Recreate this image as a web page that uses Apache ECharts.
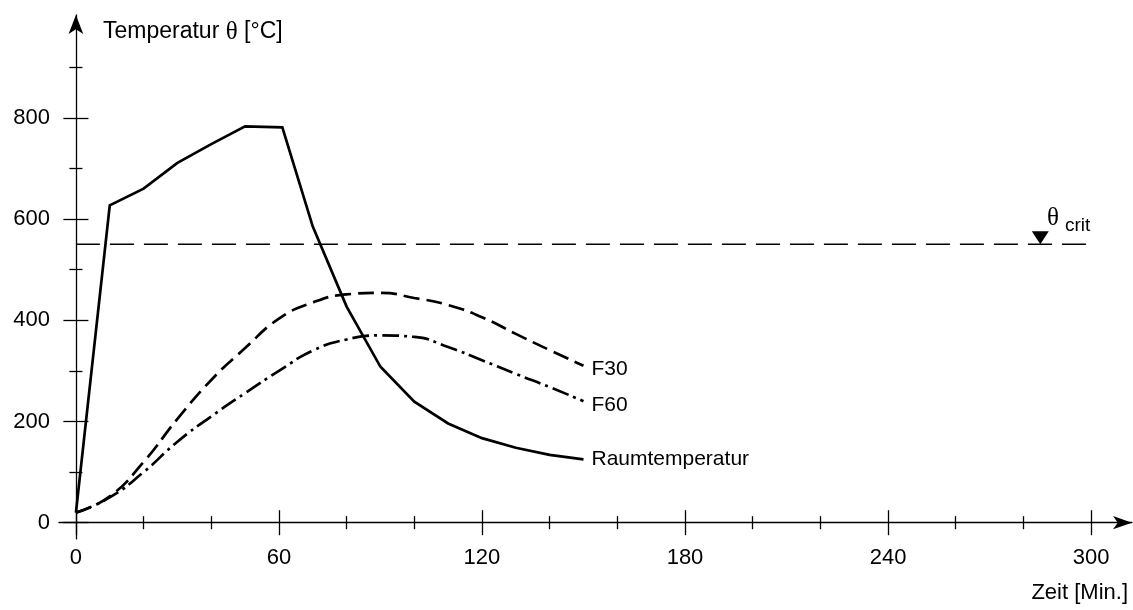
<!DOCTYPE html>
<html>
<head>
<meta charset="utf-8">
<script src="https://cdn.jsdelivr.net/npm/echarts@6/dist/echarts.min.js"></script>
<style>
html,body{margin:0;padding:0;background:#fff;}
#chart{width:1133px;height:610px;}
</style>
</head>
<body>
<div id="chart"></div>
<script>
// ---- data ----
const raumTime = [0, 10, 20, 30, 40, 50, 61, 70, 80, 90, 100, 110, 120, 130, 140, 150];
const raumTemp = [20, 627, 660, 711, 748, 783, 781, 585, 427, 308, 239, 196, 167, 148, 134, 125];
const fTime = [0, 10, 20, 30, 40, 50, 60, 70, 80, 90, 100, 110, 120, 130, 140, 150];
const f30Temp = [20, 52, 120, 205, 282, 345, 403, 435, 451, 454, 444, 430, 406, 373, 341, 310];
const f60Temp = [20, 50, 100, 160, 210, 256, 300, 340, 362, 370, 367, 347, 321, 294, 268, 240];
const critTime = [0, 300];
const critTemp = [550, 550];
const critMarkTime = 285;
const xMajor = [0, 60, 120, 180, 240, 300];
const xMinor = [20, 40, 80, 100, 140, 160, 200, 220, 260, 280];
const yMajor = [0, 200, 400, 600, 800];
const yMinor = [100, 300, 500, 700, 900];
const seriesNames = ['F30', 'F60', 'Raumtemperatur'];

const pairs = (xs, ys) => xs.map((x, i) => [x, ys[i]]);

const FONT = "'Liberation Sans', Arial, sans-serif";
const SERIF = "'Liberation Serif', 'Times New Roman', serif";
const X_MIN = -5, X_MAX = 312.1, Y_MIN = -32, Y_MAX = 1003;

function xAx(ticks, len, inside, main) {
  return {
    type: 'value', position: 'bottom', min: X_MIN, max: X_MAX,
    axisLine: main ? { show: true, onZero: true, onZeroAxisIndex: 0, symbol: ['none', 'arrow'], symbolSize: [10, 19],
      lineStyle: { color: '#000', width: 1.3 } } : { show: false, onZero: true, onZeroAxisIndex: 0 },
    axisTick: { show: true, customValues: ticks, length: len, inside: inside, lineStyle: { color: '#000', width: 1.3 } },
    axisLabel: main ? { show: true, customValues: ticks, margin: 8, fontSize: 22, fontFamily: FONT, color: '#000' } : { show: false },
    splitLine: { show: false }
  };
}
function yAx(ticks, len, inside, main) {
  return {
    type: 'value', position: 'left', min: Y_MIN, max: Y_MAX,
    axisLine: main ? { show: true, onZero: true, onZeroAxisIndex: 0, symbol: ['none', 'arrow'], symbolSize: [11, 19],
      lineStyle: { color: '#000', width: 1.3 } } : { show: false, onZero: true, onZeroAxisIndex: 0 },
    axisTick: { show: true, customValues: ticks, length: len, inside: inside, lineStyle: { color: '#000', width: 1.3 } },
    axisLabel: main ? { show: true, customValues: ticks, margin: 9, fontSize: 22, fontFamily: FONT, color: '#000' } : { show: false },
    splitLine: { show: false }
  };
}

const chart = echarts.init(document.getElementById('chart'), null, { renderer: 'canvas' });
const option = {
  animation: false,
  backgroundColor: '#fff',
  grid: { left: 59, right: 1, top: 15, bottom: 71.1, containLabel: false, outerBoundsMode: 'none' },
  xAxis: [
    xAx(xMajor, 12.5, false, true),
    xAx(xMajor, 12.5, true, false),
    xAx(xMinor, 6.5, false, false),
    xAx(xMinor, 6.5, true, false)
  ],
  yAxis: [
    yAx(yMajor, 12.5, false, true),
    yAx(yMajor, 12.5, true, false),
    yAx(yMinor, 6.5, false, false),
    yAx(yMinor, 6.5, true, false)
  ],
  series: [
    {
      name: 'crit', type: 'line', data: pairs(critTime, critTemp), symbol: 'none', silent: true,
      lineStyle: { color: '#000', width: 1.5, type: [24, 10] },
      markPoint: {
        silent: true,
        symbol: 'triangle', symbolRotate: 180, symbolSize: [17, 13], symbolOffset: [0, -6.5],
        itemStyle: { color: '#000' }, label: { show: false },
        data: [{ coord: [critMarkTime, critTemp[0]] }]
      }
    },
    {
      name: seriesNames[0], type: 'line', data: pairs(fTime, f30Temp), symbol: 'none', smooth: 0.5,
      lineStyle: { color: '#000', width: 2.7, type: [16, 7] },
      endLabel: { show: true, formatter: '{a}', distance: 8, offset: [0, 3], fontSize: 21, fontFamily: FONT, color: '#000' }
    },
    {
      name: seriesNames[1], type: 'line', data: pairs(fTime, f60Temp), symbol: 'none', smooth: 0.5,
      lineStyle: { color: '#000', width: 2.7, type: [17, 5, 3, 5] },
      endLabel: { show: true, formatter: '{a}', distance: 8, offset: [0, 4], fontSize: 21, fontFamily: FONT, color: '#000' }
    },
    {
      name: seriesNames[2], type: 'line', data: pairs(raumTime, raumTemp), symbol: 'none',
      lineStyle: { color: '#000', width: 2.7, join: 'miter' },
      endLabel: { show: true, formatter: '{a}', distance: 8, offset: [0, 0], fontSize: 21, fontFamily: FONT, color: '#000' }
    }
  ],
  graphic: [
    {
      type: 'text', x: 103, y: 32, silent: true,
      style: {
        text: 'Temperatur {t|θ} [°C]', fill: '#000', font: "23px " + FONT, align: 'left', verticalAlign: 'middle',
        rich: { t: { fontFamily: SERIF, fontSize: 25, fill: '#000' } }
      }
    },
    {
      type: 'text', x: 1128, y: 593, silent: true,
      style: { text: 'Zeit [Min.]', fill: '#000', font: "22px " + FONT, align: 'right', verticalAlign: 'middle' }
    },
    {
      type: 'text', x: 1053, y: 218.5, silent: true,
      style: { text: 'θ', fill: '#000', font: "25px " + SERIF, align: 'center', verticalAlign: 'middle' }
    },
    {
      type: 'text', x: 1065, y: 226, silent: true,
      style: { text: 'crit', fill: '#000', font: "19px " + FONT, align: 'left', verticalAlign: 'middle' }
    }
  ]
};
chart.setOption(option);
</script>
</body>
</html>
